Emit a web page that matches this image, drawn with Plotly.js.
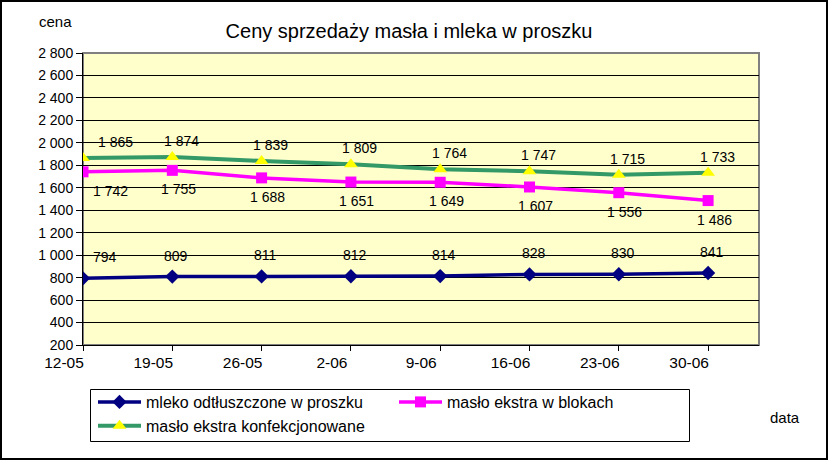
<!DOCTYPE html>
<html>
<head>
<meta charset="utf-8">
<script src="https://cdn.plot.ly/plotly-3.0.1.min.js"></script>
<style>html,body{margin:0;padding:0;background:#fff;}#chart{width:828px;height:460px;}</style>
</head>
<body>
<div id="chart"></div>
<script>
const categories = ['12-05','19-05','26-05','2-06','9-06','16-06','23-06','30-06'];
const mleko = [794, 809, 811, 812, 814, 828, 830, 841];
const masloBloki = [1742, 1755, 1688, 1651, 1649, 1607, 1556, 1486];
const masloKonf = [1865, 1874, 1839, 1809, 1764, 1747, 1715, 1733];
const yTicks = [200,400,600,800,1000,1200,1400,1600,1800,2000,2200,2400,2600,2800];
const seriesNames = ['mleko odtłuszczone w proszku','masło ekstra w blokach','masło ekstra konfekcjonowane'];

const W = 828, H = 460;
const M = {l: 83, r: 69, t: 53, b: 115, autoexpand: false};
const pw = W - M.l - M.r, ph = H - M.t - M.b;
const font = 'Arial, "Liberation Sans", sans-serif';
const px = x => (x - M.l) / pw;
const py = y => (H - M.b - y) / ph;

function fmt(v){ return String(v).replace(/\B(?=(\d{3})+(?!\d))/g, ' '); }

const traces = [
  {x: categories, y: mleko, name: seriesNames[0], type: 'scatter', mode: 'lines+markers',
   line: {color: '#000080', width: 3.5}, marker: {symbol: 'diamond', size: 11, color: '#000080'}},
  {x: categories, y: masloBloki, name: seriesNames[1], type: 'scatter', mode: 'lines+markers',
   line: {color: '#FF00FF', width: 3.5}, marker: {symbol: 'square', size: 11, color: '#FF00FF'}},
  {x: categories, y: masloKonf, name: seriesNames[2], type: 'scatter', mode: 'lines+markers',
   line: {color: '#339966', width: 4}, marker: {symbol: 'triangle-up', size: 12, color: '#FFFF00'}}
];

const annotations = [];
function addLabels(vals, dx0, dx, dy){
  vals.forEach((v, i) => {
    annotations.push({x: categories[i], y: v, xref: 'x', yref: 'y', text: fmt(v), showarrow: false,
      xshift: i === 0 ? dx0 : dx, yshift: dy, font: {family: font, size: 14, color: '#000'}});
  });
}
addLabels(mleko, 22, 4, 21);
addLabels(masloBloki, 27, 6, -19);
addLabels(masloKonf, 32, 9, 16);

annotations.push({xref: 'paper', yref: 'paper', x: px(55), y: py(22), text: 'cena',
  showarrow: false, xanchor: 'center', yanchor: 'middle', font: {family: font, size: 15, color: '#000'}});
annotations.push({xref: 'paper', yref: 'paper', x: px(785), y: py(417), text: 'data',
  showarrow: false, xanchor: 'center', yanchor: 'middle', font: {family: font, size: 15, color: '#000'}});

const shapes = [
  {type: 'rect', xref: 'paper', yref: 'paper', x0: 0, x1: 1, y0: 0, y1: 1,
   line: {color: '#808080', width: 2}, layer: 'below'},
  {type: 'rect', xref: 'paper', yref: 'paper', x0: px(1), x1: px(W - 1), y0: py(H - 1), y1: py(1),
   line: {color: '#000', width: 2}},
  {type: 'rect', xref: 'paper', yref: 'paper', x0: px(90.5), x1: px(689.5), y0: py(441.5), y1: py(389.5),
   line: {color: '#000', width: 1}}
];

const layout = {
  width: W, height: H,
  margin: M,
  paper_bgcolor: '#FFFFFF',
  plot_bgcolor: '#FFFFCC',
  separators: ', ',
  font: {family: font, size: 14, color: '#000'},
  title: {text: 'Ceny sprzedaży masła i mleka w proszku', x: 409/W, xanchor: 'center', y: 1 - 31/H, yanchor: 'middle',
    font: {family: font, size: 20, color: '#000'}},
  xaxis: {type: 'category', range: [0, 7.57], showgrid: false, zeroline: false,
    showline: true, linecolor: '#000', linewidth: 1, ticks: 'outside', ticklen: 5, tickcolor: '#000',
    ticklabelshift: -19, ticklabelstandoff: -2,
    tickfont: {family: font, size: 15.5, color: '#000'}, fixedrange: true},
  yaxis: {range: [200, 2800], tickvals: yTicks, ticktext: yTicks.map(fmt), showgrid: true,
    gridcolor: '#000', gridwidth: 1, zeroline: false, showline: true, linecolor: '#000', linewidth: 1,
    ticks: 'outside', ticklen: 6, tickcolor: '#000', tickfont: {family: font, size: 14, color: '#000'}, fixedrange: true},
  showlegend: true,
  legend: {orientation: 'h', x: px(93), xanchor: 'left', y: py(385), yanchor: 'top',
    bgcolor: 'rgba(255,255,255,0)', borderwidth: 0, itemwidth: 43, entrywidth: 243, entrywidthmode: 'pixels',
    font: {family: font, size: 16, color: '#000'}, traceorder: 'normal'},
  annotations: annotations,
  shapes: shapes
};

Plotly.newPlot('chart', traces, layout, {displayModeBar: false, staticPlot: true});
</script>
</body>
</html>
